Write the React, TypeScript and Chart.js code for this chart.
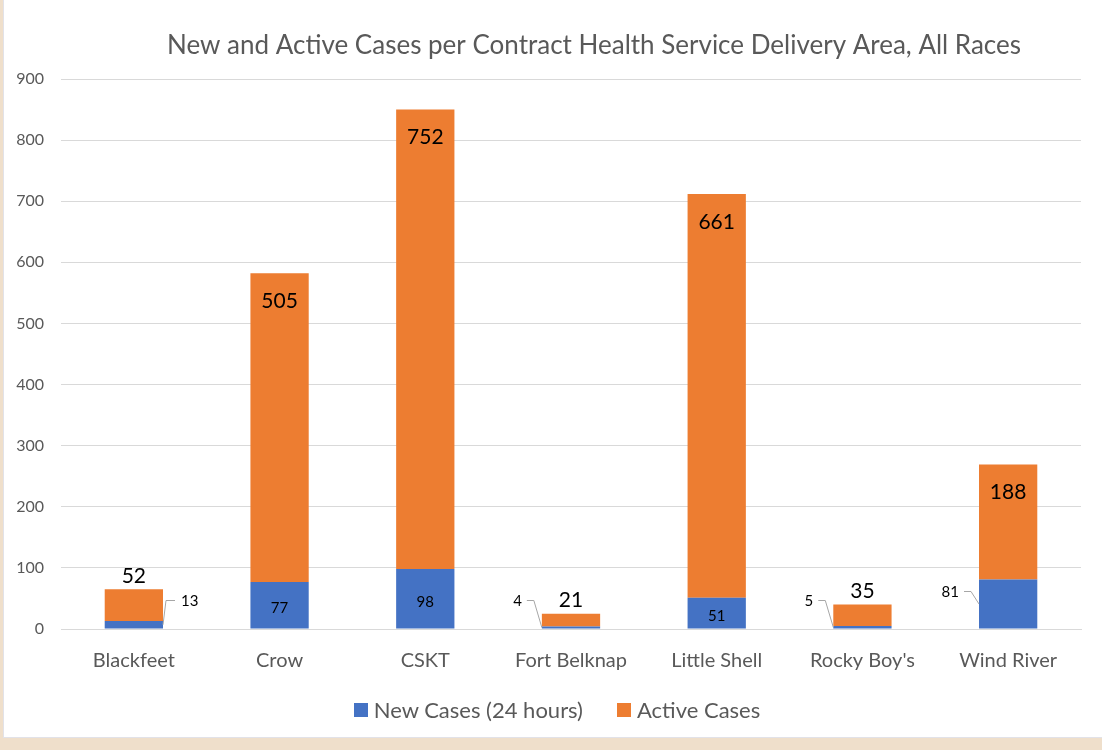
import React, { useEffect, useRef } from "react";
import { Chart, registerables } from "chart.js";

Chart.register(...registerables);

const categories = ["Blackfeet", "Crow", "CSKT", "Fort Belknap", "Little Shell", "Rocky Boy's", "Wind River"];
const newCases = [13, 77, 98, 4, 51, 5, 81];
const activeCases = [52, 505, 752, 21, 661, 35, 188];
const yTicks = [0, 100, 200, 300, 400, 500, 600, 700, 800, 900];
const newLabelPlacement = ["right", "inside", "inside", "left", "inside", "left", "left"];
const seriesNames = ["New Cases (24 hours)", "Active Cases"];
const seriesColors = ["#4472C4", "#ED7D31"];

const TITLE = "New and Active Cases per Contract Health Service Delivery Area, All Races";
const FONT = "Lato, 'Noto Sans', sans-serif";

const labelPlugin = {
  id: "customLabels",
  afterDatasetsDraw(chart: any) {
    const ctx = chart.ctx;
    const metaNew = chart.getDatasetMeta(0);
    const metaAct = chart.getDatasetMeta(1);
    ctx.save();
    ctx.fillStyle = "#000";
    ctx.textAlign = "center";
    ctx.textBaseline = "middle";
    metaAct.data.forEach((el: any, i: number) => {
      const { x, y, base } = el.getProps(["x", "y", "base"], true);
      const h = base - y;
      ctx.font = `21px ${FONT}`;
      const ly = h > 45 ? y + 28 : y - 13;
      ctx.fillText(String(activeCases[i]), x, ly);
    });
    metaNew.data.forEach((el: any, i: number) => {
      const { x, y, base, width } = el.getProps(["x", "y", "base", "width"], true);
      const place = newLabelPlacement[i];
      ctx.font = `15px ${FONT}`;
      const txt = String(newCases[i]);
      if (place === "inside") {
        ctx.textAlign = "center";
        ctx.fillText(txt, x, (y + base) / 2 + 3);
        return;
      }
      const ly = Math.min(y + 12, base - 28);
      const endY = (y + base) / 2;
      ctx.strokeStyle = "#a6a6a6";
      ctx.lineWidth = 1;
      if (place === "right") {
        const ex = x + width / 2;
        ctx.beginPath();
        ctx.moveTo(ex, endY);
        ctx.lineTo(ex + 3, ly);
        ctx.lineTo(ex + 12, ly);
        ctx.stroke();
        ctx.textAlign = "left";
        ctx.fillText(txt, ex + 18, ly + 1);
      } else {
        const ex = x - width / 2;
        ctx.beginPath();
        ctx.moveTo(ex, endY);
        ctx.lineTo(ex - 8, ly);
        ctx.lineTo(ex - 15, ly);
        ctx.stroke();
        ctx.textAlign = "right";
        ctx.fillText(txt, ex - 20, ly + 1);
      }
    });
    ctx.font = `26px ${FONT}`;
    ctx.fillStyle = "#595959";
    ctx.textAlign = "center";
    ctx.fillText(TITLE, 590, 46);
    ctx.restore();
  },
};

export default function App() {
  const ref = useRef<HTMLCanvasElement | null>(null);
  useEffect(() => {
    if (!ref.current) return;
    const chart = new Chart(ref.current, {
      type: "bar",
      data: {
        labels: categories,
        datasets: [
          { label: seriesNames[0], data: newCases, backgroundColor: seriesColors[0], borderWidth: 0 },
          { label: seriesNames[1], data: activeCases, backgroundColor: seriesColors[1], borderWidth: 0 },
        ],
      },
      options: {
        animation: false,
        responsive: false,
        maintainAspectRatio: false,
        layout: { padding: { top: 79, left: 0, right: 21, bottom: 44 } },
        datasets: { bar: { categoryPercentage: 1, barPercentage: 0.4 } },
        scales: {
          x: {
            stacked: true,
            grid: { display: false, drawTicks: false },
            border: { display: true, color: "#d9d9d9" },
            ticks: { color: "#595959", font: { family: FONT, size: 20 }, padding: 20 },
          },
          y: {
            stacked: true,
            min: 0,
            max: 900,
            afterBuildTicks: (axis: any) => {
              axis.ticks = yTicks.map((v) => ({ value: v }));
            },
            afterFit: (axis: any) => {
              axis.width = 57;
            },
            grid: { color: "#d9d9d9", drawTicks: false },
            border: { display: false },
            ticks: { color: "#595959", font: { family: FONT, size: 16 }, padding: 17 },
          },
        },
        plugins: {
          title: { display: false },
          tooltip: { enabled: false },
          legend: { display: false },
        },
      },
      plugins: [labelPlugin],
    });
    return () => chart.destroy();
  }, []);
  return (
    <div style={{ position: "fixed", left: 0, top: 0, width: 1102, height: 750, background: "#EFDFCB" }}>
      <div style={{ position: "absolute", left: 4, top: 0, width: 1098, height: 737, background: "#fff", boxShadow: "0 0 0 1px #e2e2e8" }}>
        <canvas ref={ref} width={1098} height={737} style={{ display: "block" }} />
        <div
          style={{
            position: "absolute",
            left: 4,
            width: 1098,
            top: 696,
            height: 28,
            display: "flex",
            justifyContent: "center",
            alignItems: "center",
            fontFamily: FONT,
            fontSize: 22,
            color: "#595959",
            gap: 34,
          }}
        >
          {seriesNames.map((n, i) => (
            <div key={n} style={{ display: "flex", alignItems: "center", gap: 6 }}>
              <span style={{ width: 14, height: 14, background: seriesColors[i], display: "inline-block" }} />
              <span style={{ lineHeight: "28px" }}>{n}</span>
            </div>
          ))}
        </div>
      </div>
    </div>
  );
}
